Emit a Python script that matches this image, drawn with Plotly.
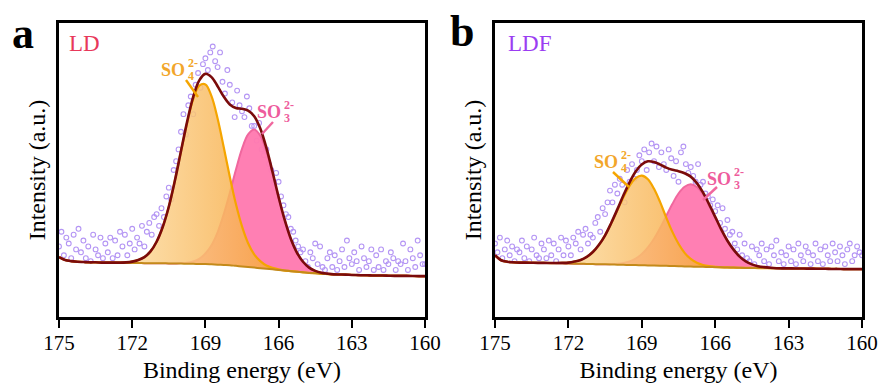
import plotly.graph_objects as go

# ---------------- data ----------------
energy_fit = [round(175 - 0.25 * i, 2) for i in range(61)]   # 175 -> 160 eV
energy_raw = [round(175 - 0.1 * i, 1) for i in range(151)]   # 175 -> 160 eV

# Panel a (LD)
base_a = [20.4, 19.4, 19.0, 18.8, 18.7, 18.6, 18.6, 18.5, 18.5, 18.5,
          18.45, 18.4, 18.4, 18.4, 18.3, 18.3, 18.3, 18.3, 18.2, 18.2,
          18.2, 18.1, 18.1, 18.0, 18.0, 17.9, 17.8, 17.7, 17.6, 17.4,
          17.2, 17.0, 16.8, 16.6, 16.4, 16.2, 16.0, 15.8, 15.6, 15.4,
          15.2, 15.0, 14.9, 14.7, 14.6, 14.5, 14.45, 14.4, 14.3, 14.25,
          14.2, 14.15, 14.1, 14.1, 14.05, 14.0, 14.0, 14.0, 13.95, 13.9, 13.9]
so4_a = [0] * 10 + [0.05, 0.17, 0.43, 0.97, 2.05, 4.0, 7.3, 12.3, 19.3, 28.2,
                    38.1, 47.9, 56.0, 60.7, 61.1, 57.2, 49.7, 40.1, 30.1, 21.0,
                    13.6, 8.1, 4.5, 2.4, 1.1, 0.5, 0.2] + [0] * 24
so3_a = [0] * 20 + [0.14, 0.36, 0.8, 1.8, 3.6, 6.5, 11.0, 17.2, 24.6, 32.7,
                    40.0, 45.1, 47.0, 45.1, 40.0, 32.7, 24.6, 17.2, 11.0, 6.5,
                    3.6, 1.8, 0.8, 0.36, 0.14] + [0] * 16
raw_a = [24, 29, 21, 27, 25, 20, 28, 23, 30, 22,
         26, 20, 24, 19, 28, 23, 21, 27, 20, 25,
         22, 27, 20, 26, 21, 29, 24, 28, 21, 25,
         30, 23, 27, 25, 31, 24, 29, 32, 28, 34,
         35, 31, 37, 34, 41, 44, 40, 50, 53, 57,
         63, 69, 62, 72, 75, 69, 79, 83, 78, 86,
         88, 84, 90, 92, 87, 85, 90, 80, 76, 84,
         79, 73, 68, 77, 72, 70, 68, 75, 71, 65,
         65, 60, 66, 57, 55, 57, 52, 50, 46, 49,
         46, 41, 38, 35, 34, 30, 29, 26, 24, 22,
         23, 19, 17, 22, 20, 25, 18, 24, 17, 16,
         20, 22, 17, 21, 16, 19, 23, 17, 26, 20,
         18, 22, 19, 16, 24, 20, 17, 19, 23, 16,
         21, 17, 23, 16, 19, 18, 22, 20, 16, 19,
         18, 25, 19, 16, 23, 20, 17, 26, 21, 18,
         18]

# Panel b (LDF)
base_b = [21.0, 19.3, 18.8, 18.6, 18.5, 18.5, 18.45, 18.4, 18.4, 18.35,
          18.3, 18.25, 18.2, 18.15, 18.1, 18.05, 18.0, 17.95, 17.9, 17.85,
          17.8, 17.75, 17.7, 17.65, 17.6, 17.55, 17.5, 17.45, 17.4, 17.35,
          17.3, 17.2, 17.15, 17.1, 17.05, 17.0, 16.95, 16.9, 16.85, 16.8,
          16.75, 16.7, 16.7, 16.65, 16.65, 16.6, 16.6, 16.55, 16.55, 16.5,
          16.5, 16.45, 16.45, 16.4, 16.4, 16.35, 16.35, 16.3, 16.3, 16.3, 16.3]
so4_b = [0] * 10 + [0.07, 0.16, 0.3, 0.7, 1.3, 2.4, 4.1, 6.6, 9.9, 14.0,
                    18.5, 23.0, 26.9, 29.6, 30.5, 29.3, 26.1, 21.6, 16.4, 11.6,
                    7.6, 4.6, 2.6, 1.34, 0.64, 0.29, 0.12] + [0] * 24
so3_b = [0] * 19 + [0.14, 0.31, 0.64, 1.2, 2.2, 3.8, 6.1, 9.1, 12.8, 17.0,
                    21.1, 24.7, 27.1, 28.0, 27.1, 24.7, 21.1, 17.0, 12.8, 9.1,
                    6.1, 3.8, 2.2, 1.2, 0.64, 0.31, 0.14] + [0] * 15
raw_b = [25, 22, 27, 20, 23, 26, 21, 24, 19, 23,
         22, 26, 20, 24, 19, 23, 27, 21, 20, 25,
         23, 20, 26, 21, 25, 19, 23, 27, 21, 26,
         24, 21, 27, 25, 29, 23, 28, 30, 25, 28,
         27, 32, 34, 29, 37, 35, 39, 43, 39, 45,
         42, 47, 45, 39, 50, 46, 52, 47, 50, 55,
         53, 57, 50, 56, 59, 53, 58, 51, 56, 52,
         50, 57, 54, 48, 53, 46, 56, 58, 52, 49,
         51, 48, 46, 52, 45, 46, 42, 41, 38, 40,
         36, 38, 32, 37, 30, 33, 28, 29, 25, 23,
         28, 21, 25, 20, 19, 24, 18, 23, 21, 25,
         19, 23, 18, 24, 21, 26, 19, 22, 18, 21,
         24, 19, 23, 18, 25, 21, 19, 24, 22, 18,
         21, 25, 19, 23, 18, 24, 21, 19, 25, 22,
         19, 24, 21, 18, 23, 25, 19, 21, 24, 22,
         21]

x_ticks = [175, 172, 169, 166, 163, 160]
panel_letters = ["a", "b"]
sample_names = ["LD", "LDF"]

for arr in (base_a, so4_a, so3_a, base_b, so4_b, so3_b):
    assert len(arr) == len(energy_fit), len(arr)
assert len(raw_a) == len(energy_raw) and len(raw_b) == len(energy_raw)

# ---------------- style ----------------
W, H = 884, 385
FONT = "Liberation Serif, Times New Roman, Times, serif"
C_DOT = "#B495F4"
C_ENV = "#7A0B0B"
C_BASE = "#C48A1A"
C_SO4 = "#F5A500"
C_SO3 = "#F0679E"
C_SO4_TXT = "#F2A62A"
C_SO3_TXT = "#EE5C9C"
NAME_COLORS = ["#E8385A", "#9B3DF2"]


def pxx(x):
    return x / W


def pxy(y):
    return 1 - y / H


fig = go.Figure()


def add_panel(xa, ya, raw, base, so4, so3):
    env = [b + p + q for b, p, q in zip(base, so4, so3)]
    c3 = [b + q for b, q in zip(base, so3)]
    c4 = [b + p for b, p in zip(base, so4)]
    common = dict(xaxis=xa, yaxis=ya, showlegend=False, hoverinfo="skip")
    fig.add_trace(go.Scatter(x=energy_raw, y=raw, mode="markers",
                             marker=dict(symbol="circle-open", size=4.8,
                                         color=C_DOT, line=dict(width=1.1, color=C_DOT)),
                             **common))
    fig.add_trace(go.Scatter(x=energy_fit, y=base, mode="lines",
                             line=dict(width=0, shape="spline"), **common))
    fig.add_trace(go.Scatter(x=energy_fit, y=c3, mode="lines", fill="tonexty",
                             fillcolor="rgba(255,122,176,0.96)",
                             line=dict(color=C_SO3, width=2, shape="spline"), **common))
    fig.add_trace(go.Scatter(x=energy_fit, y=base, mode="lines",
                             line=dict(width=0, shape="spline"), **common))
    fig.add_trace(go.Scatter(x=energy_fit, y=c4, mode="lines", fill="tonexty",
                             fillgradient=dict(type="horizontal", start=166.0, stop=171.5,
                                               colorscale=[[0, "rgba(246,166,58,0.86)"],
                                                           [1, "rgba(252,214,150,0.86)"]]),
                             line=dict(color=C_SO4, width=2.2, shape="spline"), **common))
    fig.add_trace(go.Scatter(x=energy_fit, y=base, mode="lines",
                             line=dict(color=C_BASE, width=2, shape="spline"), **common))
    fig.add_trace(go.Scatter(x=energy_fit, y=env, mode="lines",
                             line=dict(color=C_ENV, width=2.6, shape="spline"), **common))


add_panel("x", "y", raw_a, base_a, so4_a, so3_a)
add_panel("x2", "y2", raw_b, base_b, so4_b, so3_b)

ydom = [pxy(317), pxy(23)]
xaxis_common = dict(range=[175, 160], tickvals=x_ticks, ticktext=[str(t) for t in x_ticks],
                    ticks="outside", ticklen=8, tickwidth=2, tickcolor="black",
                    ticklabelstandoff=-3,
                    showline=True, linewidth=2.6, linecolor="black", mirror=True,
                    showgrid=False, zeroline=False,
                    tickfont=dict(family=FONT, size=21, color="black"),
                    title=dict(text="Binding energy (eV)", standoff=8,
                               font=dict(family=FONT, size=24, color="black")),
                    automargin=False)
yaxis_common = dict(range=[0, 100], showticklabels=False, ticks="",
                    showline=True, linewidth=2.6, linecolor="black", mirror=True,
                    showgrid=False, zeroline=False,
                    title=dict(text="Intensity (a.u.)", standoff=4,
                               font=dict(family=FONT, size=24, color="black")),
                    automargin=False)

fig.update_layout(
    width=W, height=H,
    margin=dict(l=0, r=0, t=0, b=0),
    paper_bgcolor="white", plot_bgcolor="white",
    font=dict(family=FONT),
    xaxis=dict(domain=[pxx(59), pxx(425)], anchor="y", **xaxis_common),
    yaxis=dict(domain=ydom, anchor="x", **yaxis_common),
    xaxis2=dict(domain=[pxx(495), pxx(862)], anchor="y2", **xaxis_common),
    yaxis2=dict(domain=ydom, anchor="x2", **yaxis_common),
)

annotations = []
shapes = []


def txt(text, x, y, size, color, xanchor="left", bold=False):
    annotations.append(dict(text=text, x=pxx(x), y=pxy(y), xref="paper", yref="paper",
                            xanchor=xanchor, yanchor="middle", showarrow=False,
                            font=dict(family=FONT, size=size, color=color,
                                      weight="bold" if bold else "normal")))


def ion(x_right, y_mid, sub, color):
    txt("SO", x_right, y_mid, 18, color, xanchor="right", bold=True)
    txt("2-", x_right - 1, y_mid - 7, 12, color, bold=True)
    txt(sub, x_right - 1, y_mid + 6, 12, color, bold=True)


def leader(x0, y0, x1, y1, color):
    shapes.append(dict(type="line", xref="paper", yref="paper",
                       x0=pxx(x0), y0=pxy(y0), x1=pxx(x1), y1=pxy(y1),
                       line=dict(color=color, width=2.4)))


# panel letters and sample names
txt(panel_letters[0], 10, 33, 44, "black", bold=True)
txt(panel_letters[1], 448, 31, 44, "black", bold=True)
txt(sample_names[0], 67, 43, 23, NAME_COLORS[0])
txt(sample_names[1], 506, 43, 23, NAME_COLORS[1])

# panel a ion labels
ion(187, 70, "4", C_SO4_TXT)
leader(186, 80, 198, 97, C_SO4)
ion(283, 112, "3", C_SO3_TXT)
leader(273, 122, 262, 134, C_SO3)

# panel b ion labels
ion(620, 162, "4", C_SO4_TXT)
leader(613, 172, 629, 187, C_SO4)
ion(733, 179, "3", C_SO3_TXT)
leader(717, 187, 703, 200, C_SO3)

fig.update_layout(annotations=annotations, shapes=shapes)

fig.write_html("out.html")
